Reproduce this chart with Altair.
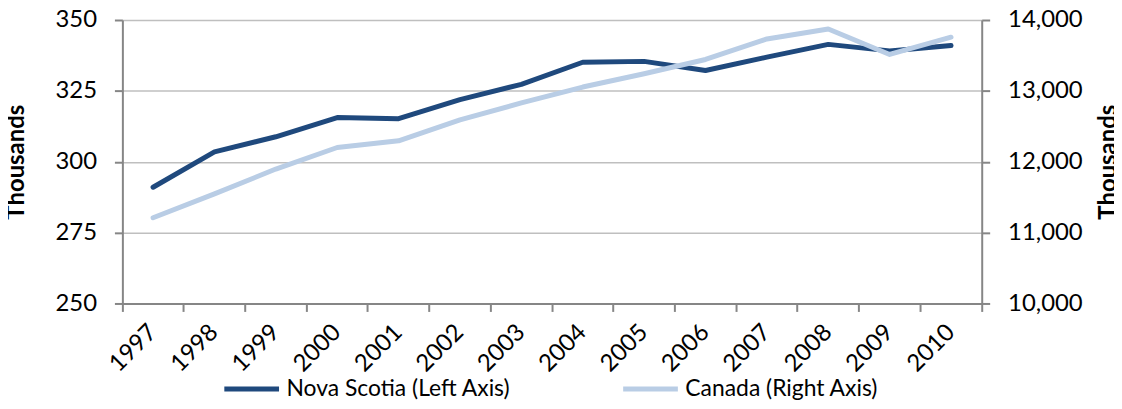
import altair as alt
import pandas as pd

years = ["1997", "1998", "1999", "2000", "2001", "2002", "2003",
         "2004", "2005", "2006", "2007", "2008", "2009", "2010"]
nova_scotia = [291.0, 303.5, 308.8, 315.6, 315.2, 321.9, 327.3,
               335.1, 335.4, 332.2, 336.9, 341.4, 339.1, 341.0]
canada = [11209, 11546, 11897, 12201, 12295, 12590, 12830,
          13054, 13241, 13443, 13733, 13874, 13514, 13757]
left_ticks = [250, 275, 300, 325, 350]
right_ticks = [10000, 11000, 12000, 13000, 14000]
series_names = ["Nova Scotia (Left Axis)", "Canada (Right Axis)"]
series_colors = ["#1F497D", "#B9CDE5"]

FONT = "Lato"
AXIS_GRAY = "#868686"
W, H = 864, 285

df = pd.DataFrame({"year": years, "ns": nova_scotia, "canada": canada})

xscale = alt.Scale(type="band", paddingInner=0, paddingOuter=0, domain=years)
cscale = alt.Scale(domain=series_names, range=series_colors)

base = alt.Chart(df)

ns_line = base.transform_calculate(series=f"'{series_names[0]}'").mark_line(
    strokeWidth=5, strokeCap="round", strokeJoin="round").encode(
    x=alt.X("year:O", scale=xscale, axis=alt.Axis(
        orient="bottom", title=None, labelAngle=-45, labelAlign="right",
        labelBaseline="middle", ticks=True, tickSize=8, bandPosition=1,
        tickExtra=True, labelPadding=17, grid=False)),
    y=alt.Y("ns:Q", scale=alt.Scale(domain=[250, 350], nice=False), axis=alt.Axis(
        values=left_ticks, title="Thousands", grid=True, tickSize=8, labelPadding=18,
        titlePadding=27)),
    color=alt.Color("series:N", scale=cscale, legend=alt.Legend(title=None)),
)

ca_line = base.transform_calculate(series=f"'{series_names[1]}'").mark_line(
    strokeWidth=5, strokeCap="round", strokeJoin="round").encode(
    x=alt.X("year:O", scale=xscale),
    y=alt.Y("canada:Q", scale=alt.Scale(domain=[10000, 14000], nice=False), axis=alt.Axis(
        orient="right", values=right_ticks, format=",.0f", title="Thousands", grid=False,
        tickSize=8, labelPadding=18, titleAngle=-90, titleBaseline="top", titlePadding=14)),
    color=alt.Color("series:N", scale=cscale, legend=alt.Legend(title=None)),
)

chart = alt.layer(ns_line, ca_line).resolve_scale(y="independent").properties(
    width=W, height=H,
    autosize=alt.AutoSizeParams(type="none"),
    padding={"left": 115, "top": 11, "right": 133, "bottom": 97},
).configure_view(stroke=None).configure_axis(
    gridColor="#BFBFBF", gridWidth=1.5,
    domainColor=AXIS_GRAY, domainWidth=2,
    tickColor=AXIS_GRAY, tickWidth=2,
    labelFont=FONT, labelFontSize=24, labelColor="black",
    titleFont=FONT, titleFontSize=24, titleFontWeight="bold", titleColor="black",
).configure_legend(
    orient="none", legendX=100, legendY=341, direction="horizontal",
    symbolType="stroke", symbolSize=3025, symbolStrokeWidth=5,
    labelFont=FONT, labelFontSize=23, labelColor="black", labelLimit=0,
    columnPadding=102, labelOffset=5,
)

chart.save("out.html", embed_options={"renderer": "svg", "actions": False})
